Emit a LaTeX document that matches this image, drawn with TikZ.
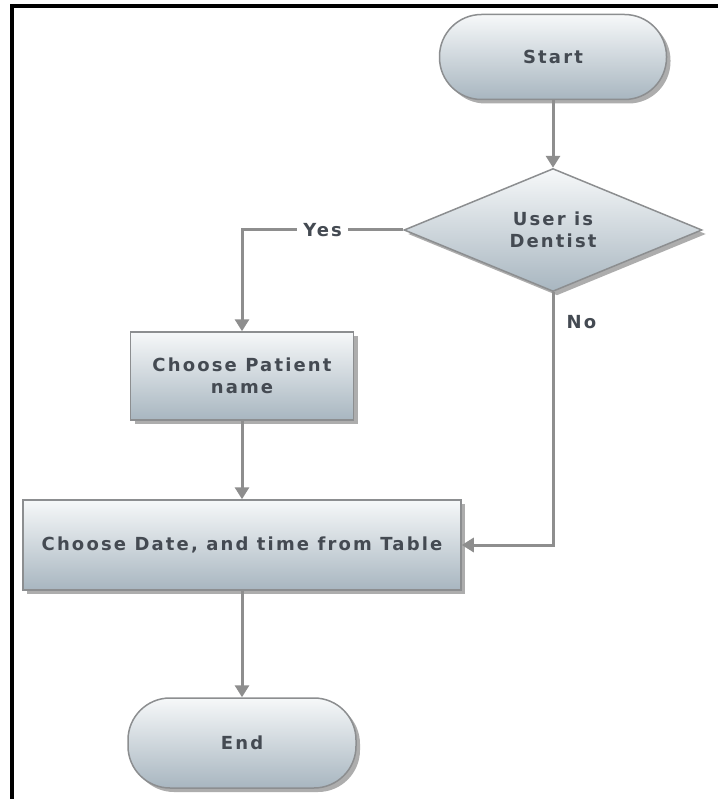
\documentclass[tikz,border=0pt]{standalone}
\usepackage{fontspec}
\setmainfont{DejaVu Sans}
\newfontfamily\lblfont[LetterSpace=12]{DejaVu Sans}
\usetikzlibrary{shapes.geometric,arrows.meta,shadows}
\definecolor{txt}{HTML}{444A52}
\definecolor{edgeg}{HTML}{8C8E90}
\definecolor{topc}{HTML}{F6F8F9}
\definecolor{botc}{HTML}{A8B6C0}
\definecolor{lineg}{HTML}{8E8E8E}
\tikzset{
  base/.style={draw=edgeg, line width=1.5pt, top color=topc, bottom color=botc,
    text=txt, font=\lblfont\bfseries\fontsize{18}{22}\selectfont, align=center, inner sep=0pt,
    drop shadow={shadow xshift=4pt, shadow yshift=-4pt, fill=gray!80, opacity=0.8}},
  terminal/.style={base, rectangle, rounded corners=42pt},
  process/.style={base, rectangle},
  decision/.style={base, diamond},
  conn/.style={draw=lineg, line width=3pt, -{Triangle[length=12pt,width=14pt]}},
  lbl/.style={text=txt, font=\lblfont\bfseries\fontsize{18}{22}\selectfont}
}
\begin{document}
\begin{tikzpicture}[x=1pt,y=-1pt]
\useasboundingbox (0,0) rectangle (718,799);
\fill[white] (0,0) rectangle (718,799);
\draw[black, line width=4pt] (12,799) -- (12,6) -- (718,6);
\node[terminal, minimum width=227pt, minimum height=85pt] (start) at (553,57) {Start};
\node[decision, minimum width=298pt, minimum height=115pt] (dec) at (553,230) {User is\\Dentist};
\node[process, minimum width=223pt, minimum height=88pt] (pat) at (242,376) {Choose Patient\\name};
\node[process, minimum width=438pt, minimum height=90pt] (date) at (242,545) {Choose Date, and time from Table};
\node[terminal, minimum width=228pt, minimum height=90pt] (end) at (242,743) {End};
\draw[conn] (start) -- (dec);
\draw[conn] (dec.west) -| node[pos=0.25, lbl, fill=white, inner sep=6pt] (yes) {Yes} (pat.north);
\draw[conn] (dec.south) |- (date.east);
\node[lbl, anchor=west] (no) at (563,322) {No};
\draw[conn] (pat) -- (date);
\draw[conn] (date) -- (end);
\end{tikzpicture}
\end{document}
